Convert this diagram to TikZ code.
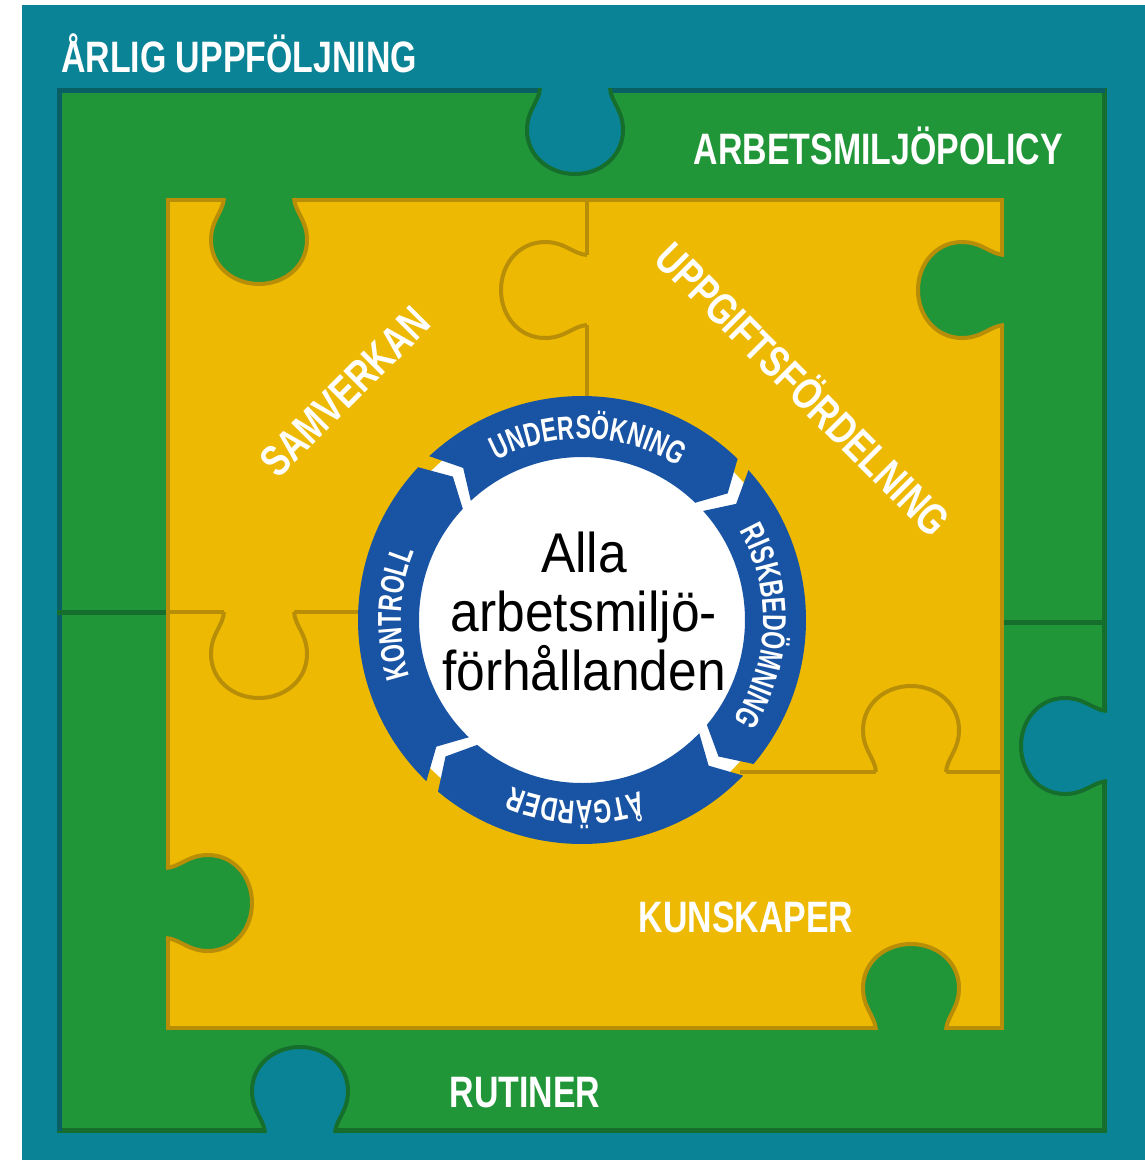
\documentclass[tikz,border=0pt]{standalone}
\usepackage{fontspec}
\setmainfont{Liberation Sans}
\newfontfamily\labelfont[FakeStretch=0.77]{Liberation Sans}
\newfontfamily\ringfont[FakeStretch=0.7]{Liberation Sans}
\newfontfamily\centerfont[FakeStretch=0.92]{Liberation Sans}
\usetikzlibrary{decorations.text}

\definecolor{bgteal}{RGB}{9,131,149}
\definecolor{darkteal}{RGB}{10,95,100}
\definecolor{pzgreen}{RGB}{33,150,57}
\definecolor{darkgreen}{RGB}{22,110,45}
\definecolor{pzyellow}{RGB}{237,185,2}
\definecolor{pzolive}{RGB}{184,142,8}
\definecolor{ringblue}{RGB}{25,84,164}

\tikzset{
  % puzzle knob: #1 fill, #2 rim colour; points along local +y
  pics/knob/.style n args={2}{code={
    \fill[#1] (-35,-6) -- (-35,0) .. controls (-36,14) and (-48,22) .. (-48,42)
       .. controls (-48,68) and (-26,86) .. (0,86)
       .. controls (26,86) and (48,68) .. (48,42)
       .. controls (48,22) and (36,14) .. (35,0) -- (35,-6) -- cycle;
    \draw[#2, line width=4] (-35,0) .. controls (-36,14) and (-48,22) .. (-48,42)
       .. controls (-48,68) and (-26,86) .. (0,86)
       .. controls (26,86) and (48,68) .. (48,42)
       .. controls (48,22) and (36,14) .. (35,0);
  }},
  lbl/.style={text=white, font=\labelfont\bfseries\fontsize{44}{44}\selectfont, inner sep=0pt},
  centertext/.style={text=black, font=\centerfont\fontsize{56}{56}\selectfont, inner sep=0pt},
  greenline/.style={draw=darkgreen, line width=5},
  yellowline/.style={draw=pzolive, line width=4},
}

% one arrow of the cycle: tail at #1, head at #2 (clockwise)
\newcommand{\ringarrow}[2]{%
  \fill[ringblue] (#1:224) arc[start angle=#1, end angle=#2, radius=224]
    -- ({#2-5}:193) -- (#2:163) arc[start angle=#2, end angle=#1, radius=163]
    -- ({#1-5}:193) -- cycle;}
% label along the ring, centred on angle #1
\newcommand{\ringlabel}[2]{%
  \path[decorate, decoration={text along path, text align=center,
    text={|\ringfont\bfseries\fontsize{33}{33}\selectfont\color{white}|#2}}]
    ({#1+60}:181) arc[start angle={#1+60}, end angle={#1-60}, radius=181];}

\begin{document}
\begin{tikzpicture}[x=1pt, y=-1pt]
\useasboundingbox (0,0) rectangle (1145,1160);
\fill[white] (0,0) rectangle (1145,1160);
\fill[bgteal] (22,5) rectangle (1145,1160);

% green frame, shaded rim darker on the top and left
\fill[pzgreen] (57,88) rectangle (1107,1133);
\draw[greenline] (59.5,90.5) rectangle (1104.5,1130.5);
\draw[darkteal, line width=5] (59.5,1130.5) -- (59.5,90.5) -- (1104.5,90.5);
\draw[greenline] (57,612) -- (166,612);
\draw[greenline] (1004,622) -- (1107,622);

% teal knobs reaching into the frame
\pic at (575,88) {knob={bgteal}{darkgreen}};
\pic[rotate=-90] at (1107,746) {knob={bgteal}{darkgreen}};
\pic[rotate=180] at (300,1133) {knob={bgteal}{darkgreen}};

% yellow square
\fill[pzyellow] (166,198) rectangle (1004,1030);
\draw[yellowline] (168,200) rectangle (1002,1028);

% green knobs reaching into the square
\pic at (259,198) {knob={pzgreen}{pzolive}};
\pic[rotate=-90] at (1004,290) {knob={pzgreen}{pzolive}};
\pic[rotate=90] at (166,903) {knob={pzgreen}{pzolive}};
\pic[rotate=180] at (911,1030) {knob={pzgreen}{pzolive}};

% seams between the yellow pieces
\draw[yellowline] (587,198) -- (587,410);
\draw[yellowline] (166,612) -- (370,612);
\draw[yellowline] (740,772) -- (1004,772);
\pic[rotate=-90] at (587,290) {knob={pzyellow}{pzolive}};
\pic at (259,612) {knob={pzyellow}{pzolive}};
\pic[rotate=180] at (911,772) {knob={pzyellow}{pzolive}};

% cycle ring
\begin{scope}[shift={(582pt,-620pt)}, x=1pt, y=1pt]
  \fill[white] (0,0) circle[radius=212];
  \ringarrow{133}{46}
  \ringarrow{42}{-40}
  \ringarrow{-44}{-130}
  \ringarrow{-134}{-223}
  \ringlabel{88}{UNDERSÖKNING}
  \ringlabel{-2}{RISKBEDÖMNING}
  \ringlabel{-92}{ÅTGÄRDER}
  \ringlabel{178}{KONTROLL}
\end{scope}

% centre text
\node[centertext, anchor=base] (alla) at (584,572) {Alla};
\node[centertext, anchor=base] (arbets) at (584,631) {arbetsmiljö-};
\node[centertext, anchor=base] (forh) at (584,690) {förhållanden};

% piece labels
\node[lbl, anchor=base west] (arlig) at (61,72) {ÅRLIG UPPFÖLJNING};
\node[lbl, anchor=base east] (policy) at (1063,164) {ARBETSMILJÖPOLICY};
\node[lbl, rotate=45] (samverkan) at (345,392) {SAMVERKAN};
\node[lbl, rotate=-45] (uppgift) at (805,387) {UPPGIFTSFÖRDELNING};
\node[lbl, anchor=base] (kunskaper) at (746,932) {KUNSKAPER};
\node[lbl, anchor=base] (rutiner) at (525,1107) {RUTINER};
\end{tikzpicture}
\end{document}
